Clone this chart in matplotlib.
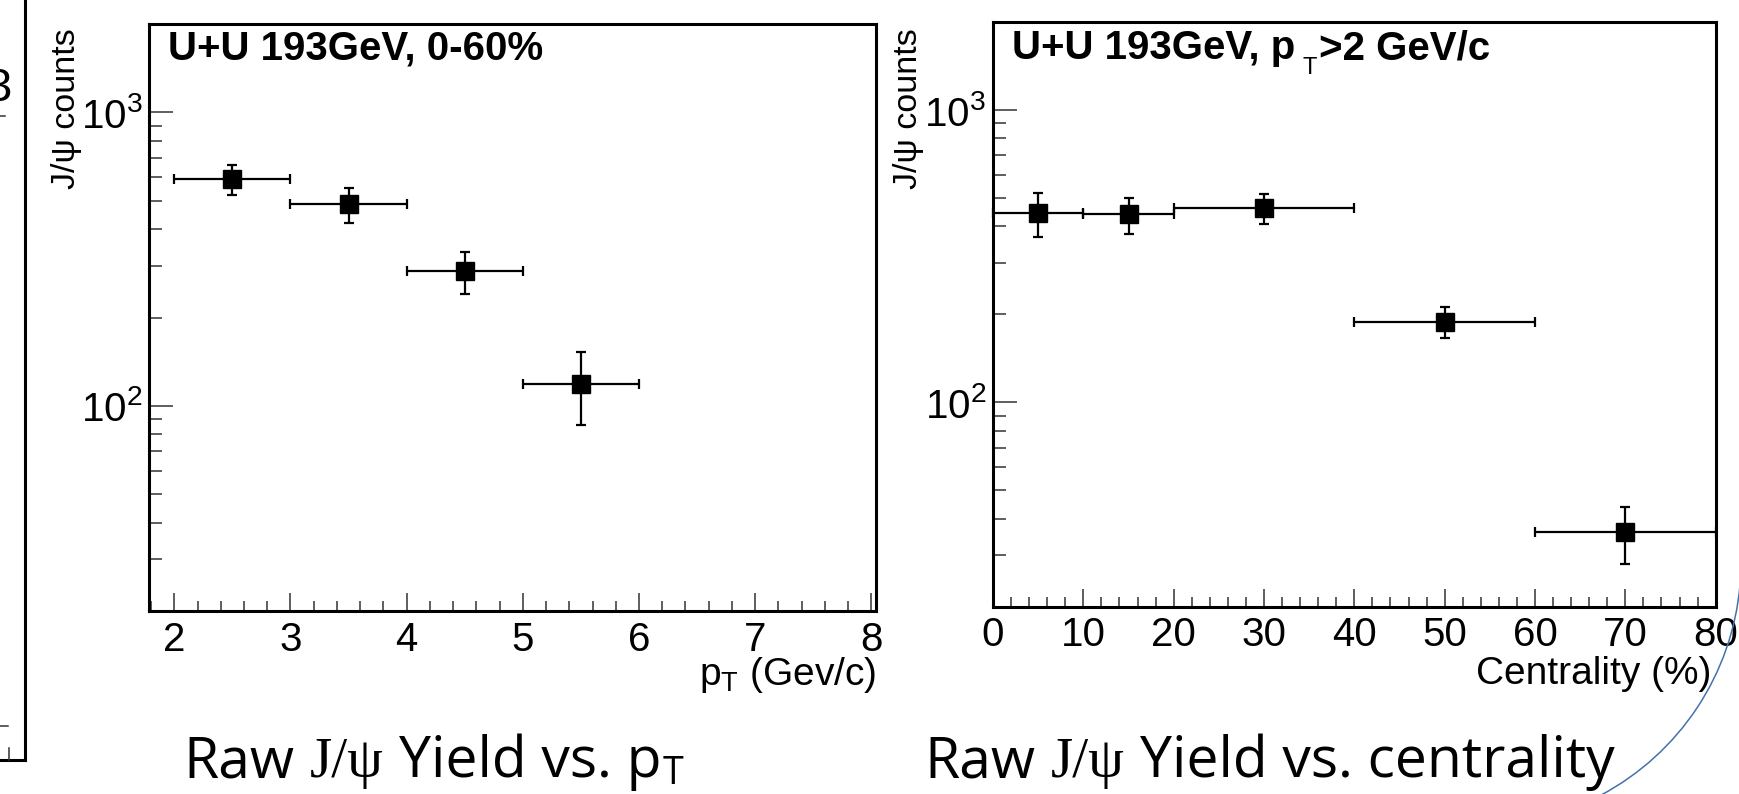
import numpy as np
import matplotlib
matplotlib.use("Agg")
import matplotlib.pyplot as plt
from matplotlib.ticker import FixedLocator, MultipleLocator, NullFormatter, FuncFormatter
from matplotlib.patches import Arc
from matplotlib.lines import Line2D

plt.rcParams['font.family'] = ['Liberation Sans', 'DejaVu Sans']
plt.rcParams['mathtext.fontset'] = 'custom'
plt.rcParams['mathtext.rm'] = 'Liberation Sans'
plt.rcParams['mathtext.it'] = 'Liberation Sans:italic'
plt.rcParams['mathtext.bf'] = 'Liberation Sans:bold'

# Raw J/psi yield in pT bins (0-60% centrality)
pt_low = [2, 3, 4, 5]
pt_high = [3, 4, 5, 6]
pt_counts = [593, 486, 287, 119]
pt_err = [70, 65, 47, 33]

# Raw J/psi yield in centrality bins (pT > 2 GeV/c)
cent_low = [0, 10, 20, 40, 60]
cent_high = [10, 20, 40, 60, 80]
cent_counts = [444, 440, 463, 189, 36]
cent_err = [77, 62, 55, 23, 8]

pt_ticks = [2, 3, 4, 5, 6, 7, 8]
cent_ticks = [0, 10, 20, 30, 40, 50, 60, 70, 80]

W, H = 1739, 794
fig = plt.figure(figsize=(W / 100, H / 100), dpi=100)
fig.patch.set_facecolor('white')
renderer = fig.canvas.get_renderer()


def px_axes(x0, y0, x1, y1):
    return fig.add_axes([x0 / W, 1 - y1 / H, (x1 - x0) / W, (y1 - y0) / H])


def decade_label(v, pos):
    e = int(round(np.log10(v)))
    return r'$10^{%d}$' % e


def style_axes(ax, major_x, minor_step, xlim):
    ax.set_yscale('log')
    ax.set_ylim(20, 2000)
    ax.set_xlim(*xlim)
    for s in ax.spines.values():
        s.set_linewidth(2.2)
        s.set_color('black')
    ax.yaxis.set_major_locator(FixedLocator([100, 1000]))
    ax.yaxis.set_major_formatter(FuncFormatter(decade_label))
    minors = [m * 10 ** k for k in (1, 2, 3) for m in range(2, 10)]
    ax.yaxis.set_minor_locator(FixedLocator([v for v in minors if 20 <= v <= 2000]))
    ax.yaxis.set_minor_formatter(NullFormatter())
    ax.xaxis.set_major_locator(FixedLocator(major_x))
    ax.xaxis.set_minor_locator(MultipleLocator(minor_step))
    ax.tick_params(axis='both', which='both', direction='in', top=False, right=False,
                   color='#333333', width=1.1)
    ax.tick_params(axis='y', which='major', length=17, pad=5, labelsize=29)
    ax.tick_params(axis='y', which='minor', length=9)
    ax.tick_params(axis='x', which='major', length=13, pad=7, labelsize=29)
    ax.tick_params(axis='x', which='minor', length=7)
    ax.set_facecolor('white')


def draw_points(ax, lo, hi, y, yerr):
    lo = np.asarray(lo, float)
    hi = np.asarray(hi, float)
    xc = 0.5 * (lo + hi)
    xe = 0.5 * (hi - lo)
    ax.errorbar(xc, y, xerr=xe, yerr=yerr, fmt='s', color='black', ms=13,
                elinewidth=1.6, capsize=3.5, capthick=1.6, clip_on=False, zorder=3)


def text_width(s, kw):
    t = fig.text(0, 0, s, **kw)
    w = t.get_window_extent(renderer).width
    t.remove()
    return w


def space_width(kw):
    return text_width('x x', kw) - text_width('xx', kw)


def draw_runs(x_px, base_px, runs):
    """Place text pieces one after another along a baseline (pixel units)."""
    x = x_px
    for txt, kw, dy, gap in runs:
        if txt == ' ':
            x += space_width(kw)
            continue
        x += gap
        t = fig.text(x / W, 1 - (base_px + dy) / H, txt, ha='left', va='baseline', **kw)
        x += t.get_window_extent(renderer).width + 1


# left panel: yield vs pT
ax1 = px_axes(149.3, 24, 876, 611)
style_axes(ax1, pt_ticks, 0.2, (1.785, 8.04))
draw_points(ax1, pt_low, pt_high, pt_counts, pt_err)

# right panel: yield vs centrality
ax2 = px_axes(993, 22, 1715.7, 606.7)
style_axes(ax2, cent_ticks, 2, (0, 80))
draw_points(ax2, cent_low, cent_high, cent_counts, cent_err)

# panel titles
bold = dict(fontsize=29, fontweight='bold')
fig.text(168 / W, 1 - 59 / H, 'U+U 193GeV, 0-60%', ha='left', va='baseline', **bold)
draw_runs(1012, 59, [('U+U 193GeV, p', bold, 0, 0),
                     ('T', dict(fontsize=17), 15, 6),
                     ('>2 GeV/c', bold, 0, 1)])

# axis titles
for xc in (67, 908):
    fig.text(xc / W, 1 - 28 / H, 'J/ψ counts', rotation=90, fontsize=24.5,
             ha='center', va='top')

fig.text(876 / W, 1 - 685 / H, r'p$_{\mathregular{T}}$ (Gev/c)', fontsize=28,
         ha='right', va='baseline')
fig.text(1711 / W, 1 - 684 / H, 'Centrality (%)', fontsize=28,
         ha='right', va='baseline')

# partial frame of the neighbouring plot at the left edge
fig.add_artist(Line2D([0, 25 / W], [1 - 760 / H, 1 - 760 / H], color='black', lw=2.2))
fig.add_artist(Line2D([25 / W, 25 / W], [1 - 760 / H, 1.0], color='black', lw=2.2))
fig.add_artist(Line2D([9 / W, 9 / W], [1 - 760 / H, 1 - 748 / H], color='#333333', lw=1.1))
fig.add_artist(Line2D([0, 8 / W], [1 - 726 / H, 1 - 726 / H], color='#333333', lw=1.1))
fig.add_artist(Line2D([0, 5 / W], [1 - 116 / H, 1 - 116 / H], color='#333333', lw=1.1))
fig.text(-15 / W, 1 - 101 / H, '3', fontsize=34, ha='left', va='baseline')

# captions built from runs of text in different fonts
sans = dict(family=['Open Sans', 'DejaVu Sans'], fontsize=41)
serif = dict(family=['Liberation Serif', 'DejaVu Serif'], fontsize=41)
sub = dict(family=['Open Sans', 'DejaVu Sans'], fontsize=27)

draw_runs(183, 777, [('Raw', sans, 0, 0), (' ', sans, 0, 0), ('J/ψ', serif, 0, 0),
                     (' ', sans, 0, 0), ('Yield vs. p', sans, 0, 0), ('T', sub, 7, 0)])
draw_runs(924, 777, [('Raw', sans, 0, 0), (' ', sans, 0, 0), ('J/ψ', serif, 0, 0),
                     (' ', sans, 0, 0), ('Yield vs. centrality', sans, 0, 0)])

# decorative arc in the lower right corner (drawn in inch space so it stays circular)
arc = Arc((1477 / 100, (H - 562) / 100), 2 * 2.64, 2 * 2.64, theta1=-62, theta2=-5,
          transform=fig.dpi_scale_trans, color='#4472a8', lw=1.1)
fig.add_artist(arc)

fig.savefig('out.png', dpi=100, facecolor='white')
